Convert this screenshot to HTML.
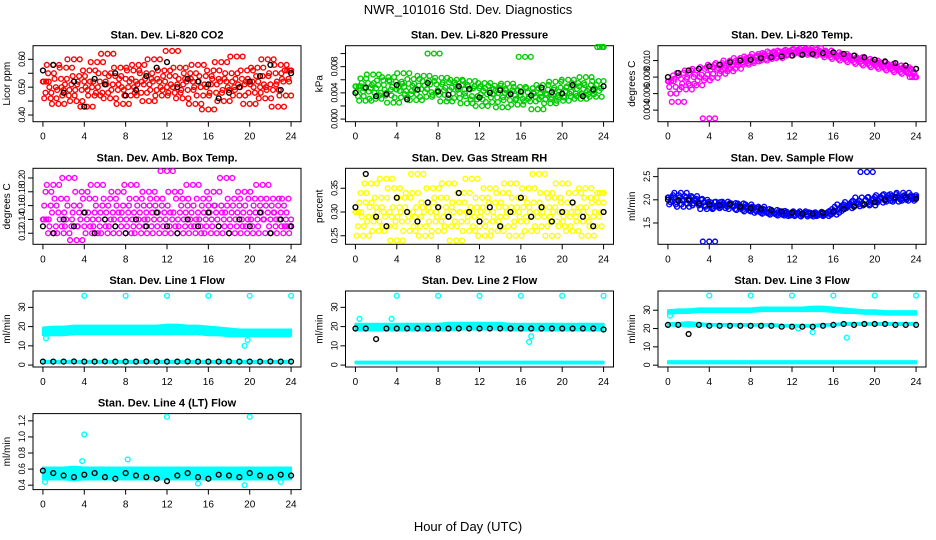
<!DOCTYPE html>
<html><head><meta charset="utf-8"><style>
body{margin:0;background:#fff;}
svg{display:block;font-family:"Liberation Sans",sans-serif;}
</style></head><body>
<svg id="c" width="936" height="540" viewBox="0 0 936 540">
<text x="468" y="14" font-size="13" text-anchor="middle">NWR_101016  Std. Dev. Diagnostics</text>
<text x="468" y="531" font-size="13" text-anchor="middle">Hour of Day (UTC)</text>
</svg>
<script>
const xTicks=[0,4,8,12,16,20,24];
const co2Vals=[0.52,0.48,0.55,0.46,0.58,0.50,0.44,0.53,0.49,0.57,0.47,0.51,0.60,0.45,0.54,0.49,0.52,0.43,0.56,0.50,0.47,0.59,0.52,0.48,0.55,0.62,0.46,0.51,0.54,0.49,0.57,0.44,0.53,0.50,0.47,0.56,0.52,0.58,0.48,0.51,0.55,0.45,0.53,0.60,0.49,0.52,0.47,0.56,0.50,0.54,0.63,0.48,0.51,0.57,0.46,0.53,0.49,0.55,0.52,0.44,0.58,0.50,0.47,0.54,0.42,0.51,0.56,0.48,0.53,0.59,0.45,0.52,0.49,0.55,0.50,0.61,0.47,0.53,0.51,0.56,0.44,0.52,0.48,0.57,0.50,0.54,0.46,0.60,0.51,0.49,0.55,0.43,0.58,0.52,0.47,0.53,0.56];
const co2Black=[0.56,0.58,0.48,0.52,0.43,0.53,0.51,0.55,0.47,0.49,0.54,0.57,0.59,0.50,0.53,0.52,0.51,0.46,0.48,0.50,0.52,0.54,0.58,0.49,0.55];
const presVals=[0.0050,0.0035,0.0062,0.0042,0.0028,0.0055,0.0047,0.0068,0.0031,0.0052,0.0040,0.0059,0.0036,0.0064,0.0045,0.0025,0.0057,0.0049,0.0033,0.0070,0.0043,0.0054,0.0038,0.0061,0.0029,0.0051,0.0046,0.0066,0.0034,0.0058,0.0041,0.0100,0.0053,0.0037,0.0063,0.0044,0.0027,0.0056,0.0048,0.0032,0.0060,0.0039,0.0052,0.0045,0.0024,0.0058,0.0035,0.0050,0.0030,0.0047,0.0020,0.0055,0.0038,0.0043,0.0026,0.0051,0.0033,0.0046,0.0018,0.0040,0.0054,0.0029,0.0044,0.0036,0.0022,0.0049,0.0031,0.0095,0.0041,0.0027,0.0047,0.0034,0.0015,0.0039,0.0052,0.0030,0.0045,0.0024,0.0037,0.0057,0.0033,0.0048,0.0028,0.0042,0.0060,0.0035,0.0050,0.0039,0.0055,0.0031,0.0046,0.0064,0.0038,0.0052,0.0043,0.0034,0.0058,0.0047,0.0110];
const presBlack=[0.0040,0.0048,0.0035,0.0038,0.0052,0.0030,0.0045,0.0055,0.0042,0.0037,0.0050,0.0046,0.0033,0.0040,0.0044,0.0038,0.0042,0.0036,0.0048,0.0041,0.0039,0.0052,0.0035,0.0045,0.0050];
const tempVals=[0.0075,0.0060,0.0082,0.0068,0.0050,0.0078,0.0085,0.0065,0.0072,0.0088,0.0080,0.0070,0.0090,0.0083,0.0076,0.0092,0.0030,0.0079,0.0095,0.0089,0.0084,0.0097,0.0091,0.0087,0.0100,0.0094,0.0090,0.0098,0.0103,0.0095,0.0101,0.0097,0.0105,0.0099,0.0104,0.0108,0.0100,0.0106,0.0102,0.0109,0.0105,0.0111,0.0103,0.0110,0.0107,0.0112,0.0106,0.0110,0.0113,0.0108,0.0111,0.0114,0.0109,0.0112,0.0107,0.0113,0.0110,0.0115,0.0108,0.0111,0.0106,0.0112,0.0109,0.0104,0.0110,0.0107,0.0102,0.0108,0.0105,0.0100,0.0106,0.0103,0.0098,0.0104,0.0101,0.0096,0.0102,0.0099,0.0094,0.0100,0.0097,0.0092,0.0098,0.0095,0.0090,0.0096,0.0093,0.0088,0.0094,0.0091,0.0086,0.0092,0.0089,0.0084,0.0090,0.0087,0.0080];
const tempBlack=[0.0080,0.0085,0.0088,0.0090,0.0093,0.0095,0.0098,0.0100,0.0101,0.0103,0.0104,0.0105,0.0106,0.0107,0.0108,0.0109,0.0110,0.0108,0.0106,0.0104,0.0101,0.0099,0.0097,0.0094,0.0090];
const ambVals=[0.14,0.18,0.12,0.16,0.19,0.13,0.15,0.17,0.12,0.14,0.20,0.13,0.16,0.11,0.15,0.18,0.13,0.14,0.17,0.12,0.15,0.19,0.13,0.16,0.14,0.12,0.17,0.15,0.13,0.18,0.14,0.16,0.12,0.15,0.19,0.13,0.17,0.14,0.12,0.16,0.15,0.18,0.13,0.14,0.17,0.12,0.16,0.15,0.21,0.13,0.14,0.18,0.12,0.15,0.17,0.13,0.16,0.14,0.19,0.12,0.15,0.13,0.17,0.14,0.16,0.12,0.18,0.15,0.13,0.16,0.14,0.20,0.12,0.15,0.17,0.13,0.16,0.14,0.18,0.12,0.15,0.13,0.17,0.14,0.16,0.19,0.12,0.15,0.14,0.17,0.13,0.16,0.15,0.12,0.14,0.17,0.13];
const ambBlack=[0.13,0.12,0.14,0.13,0.15,0.12,0.14,0.13,0.12,0.14,0.13,0.15,0.13,0.12,0.14,0.13,0.15,0.13,0.12,0.14,0.13,0.15,0.12,0.14,0.13];
const rhVals=[0.30,0.27,0.34,0.25,0.32,0.29,0.36,0.28,0.31,0.26,0.33,0.30,0.37,0.27,0.29,0.35,0.24,0.31,0.28,0.33,0.30,0.26,0.34,0.29,0.38,0.27,0.31,0.25,0.32,0.30,0.35,0.28,0.26,0.33,0.29,0.31,0.36,0.27,0.30,0.24,0.32,0.28,0.34,0.30,0.26,0.37,0.29,0.31,0.27,0.33,0.25,0.30,0.35,0.28,0.32,0.26,0.29,0.34,0.31,0.27,0.36,0.30,0.25,0.33,0.28,0.31,0.29,0.35,0.26,0.32,0.30,0.38,0.27,0.29,0.34,0.31,0.25,0.33,0.28,0.30,0.36,0.27,0.32,0.29,0.26,0.34,0.30,0.31,0.28,0.35,0.25,0.33,0.29,0.27,0.32,0.30,0.34];
const rhBlack=[0.31,0.38,0.29,0.27,0.33,0.30,0.28,0.32,0.31,0.29,0.34,0.30,0.28,0.31,0.27,0.30,0.33,0.29,0.31,0.28,0.30,0.32,0.29,0.27,0.30];
const flowVals=[2.05,1.95,2.10,1.90,2.00,2.15,1.85,2.05,1.98,2.08,1.92,2.02,1.88,2.00,1.95,1.80,1.10,1.85,1.95,1.88,1.82,1.96,1.90,1.85,1.93,1.87,1.80,1.92,1.86,1.78,1.90,1.84,1.75,1.82,1.77,1.85,1.72,1.80,1.74,1.70,1.78,1.72,1.68,1.76,1.70,1.66,1.74,1.68,1.72,1.65,1.70,1.75,1.67,1.72,1.64,1.70,1.68,1.73,1.66,1.71,1.65,1.69,1.74,1.68,1.72,1.76,1.80,1.85,1.90,1.82,1.88,1.95,1.86,1.92,1.98,2.05,1.90,2.60,1.88,2.00,2.06,1.94,2.02,2.10,1.98,2.05,2.12,1.96,2.03,2.08,2.00,2.15,2.04,1.98,2.10,2.02,2.06];
const flowBlack=[2.0,1.98,2.0,1.92,1.9,1.88,1.9,1.85,1.82,1.8,1.78,1.75,1.72,1.7,1.7,1.72,1.75,1.8,1.85,1.9,1.95,2.0,2.05,2.05,2.02];
const l1Hi=[19.5,20,20,20.5,20.5,20.5,20.5,20.5,20.5,20.5,20.5,20.5,21,21,20.5,20.5,20,19.5,19,18.5,18.5,18.5,18.5,18.5,18.5];
const l1Lo=[15.5,15.5,15.5,16,16,16,16,16,16,16,16,16,16,16,16,16,15.5,15.5,15,15,15,15,15,15,15];
const l1BaseHi=[2.2,2.2,2.2,2.2,2.2,2.2,2.2,2.2,2.2,2.2,2.2,2.2,2.2,2.2,2.2,2.2,2.2,2.2,2.2,2.2,2.2,2.2,2.2,2.2,2.2];
const l1BaseLo=[1.0,1.0,1.0,1.0,1.0,1.0,1.0,1.0,1.0,1.0,1.0,1.0,1.0,1.0,1.0,1.0,1.0,1.0,1.0,1.0,1.0,1.0,1.0,1.0,1.0];
const l1OutX=[4,8,12,16,20,24,19.5,19.8,0.3];
const l1OutY=[36,36,36,36,36,36,10,13,14];
const l1Black=[1.8,1.8,1.8,1.9,1.8,1.8,1.9,1.8,1.8,1.8,1.9,1.8,1.8,1.8,1.9,1.8,1.8,1.8,1.9,1.8,1.8,1.8,1.9,1.8,1.8];
const l2Hi=[21.5,21.5,21.5,21.5,21.5,21.5,21.5,21.5,21.5,22,22,22,22,22,22,21.5,21.5,21.5,21.5,21.5,21.5,21.5,21.5,21.5,21.5];
const l2Lo=[18,18,18,18,18,18,18,18,18,18,18.5,18.5,18.5,18.5,18.5,18,18,18,18,18,18,18,18,18,18];
const l2BaseHi=[1.8,1.8,1.8,1.8,1.8,1.8,1.8,1.8,1.8,1.8,1.8,1.8,1.8,1.8,1.8,1.8,1.8,1.8,1.8,1.8,1.8,1.8,1.8,1.8,1.8];
const l2BaseLo=[0.8,0.8,0.8,0.8,0.8,0.8,0.8,0.8,0.8,0.8,0.8,0.8,0.8,0.8,0.8,0.8,0.8,0.8,0.8,0.8,0.8,0.8,0.8,0.8,0.8];
const l2OutX=[4,8,12,16,20,24,0.4,17,16.8,3.5];
const l2OutY=[36,36,36,36,36,36,24,15,12,24];
const l2Black=[19,19,13.5,19,19,19,19,19,19,19,19,19,19,19,19,19,19,19,19,19,19,19,19,19,18.5];
const l3Hi=[30,30.5,30.5,31,31,31,31,31,31,31.5,31.5,31.5,31.5,31.5,32,32,31.5,31,30.5,30,30,29.5,29.5,29.5,29.5];
const l3Lo=[28,28.5,28.5,29,29,29,29,29,29,29.5,29.5,29.5,29.5,29.5,29.5,29.5,29,28.5,28.5,28,28,27.5,27.5,27.5,27.5];
const l3MidHi=[23,23,23.5,23,22.5,22.5,22.5,22.5,22.5,22.5,22.5,22,22,22,22,22.5,22.5,23,23,23,23,23,23,23,23];
const l3MidLo=[21.5,21.5,21,21.5,21.5,21.5,21.5,21.5,21.5,21.5,21.5,21,21,21,21,21.5,21.5,22,22,22,22,22,22,22,22];
const l3OutX=[4,8,12,16,20,24,0.2,17.3,14,12.6];
const l3OutY=[38,38,38,38,38,38,27,15,18,20];
const l3Black=[22,22,17,22,21.5,21.5,21.5,21.5,21.5,21.5,21.5,21,21,21,21,21.5,22,22.5,22,22.5,22.5,22.5,22,22,22];
const l4Hi=[0.62,0.62,0.62,0.63,0.62,0.62,0.62,0.62,0.62,0.62,0.62,0.62,0.62,0.62,0.62,0.62,0.62,0.62,0.62,0.62,0.62,0.62,0.62,0.62,0.62];
const l4Lo=[0.47,0.47,0.47,0.46,0.47,0.47,0.47,0.47,0.47,0.47,0.47,0.47,0.47,0.47,0.47,0.47,0.47,0.47,0.47,0.47,0.47,0.47,0.47,0.47,0.47];
const l4OutX=[4,12,20,0.2,3.8,8.2,15,19.5,23];
const l4OutY=[1.03,1.25,1.25,0.44,0.70,0.72,0.42,0.40,0.44];
const l4Black=[0.58,0.55,0.52,0.50,0.53,0.55,0.50,0.48,0.55,0.52,0.50,0.48,0.45,0.52,0.55,0.50,0.48,0.53,0.52,0.50,0.55,0.52,0.50,0.53,0.52];

const NS="http://www.w3.org/2000/svg";
const svg=document.getElementById('c');
const colX=[33,345.5,658], rowY=[45.7,168.3,291,413.6], W=268, H=76;
function mk(tag,attrs,parent){const e=document.createElementNS(NS,tag);for(const k in attrs)e.setAttribute(k,attrs[k]);(parent||svg).appendChild(e);return e;}
function panel(c,r,title,ylab,ymin,ymax,yt,ytl,name){
  const x0=colX[c],y0=rowY[r];
  const g=mk('g',{});
  
  
  const xr=24*1.08, xs=W/xr;
  const X=h=>x0+(h+24*0.04)*xs;
  const Y=v=>y0+H-(v-ymin)/(ymax-ymin)*H;
  const box=mk('rect',{x:x0,y:y0,width:W,height:H,fill:'none',stroke:'#000','stroke-width':1},g);
  
  
  const t=mk('text',{x:x0+W/2,y:y0-7,'font-size':11,'font-weight':'bold','text-anchor':'middle'},g);t.textContent=title;
  
  
  const yl=mk('text',{x:0,y:0,'font-size':10,'text-anchor':'middle',transform:`translate(${x0-23},${y0+H/2}) rotate(-90)`},g);yl.textContent=ylab;
  
  
  xTicks.forEach(h=>{const px=X(h);mk('line',{x1:px,x2:px,y1:y0+H,y2:y0+H+5,stroke:'#000'},g);
    const tx=mk('text',{x:px,y:y0+H+18,'font-size':10,'text-anchor':'middle'},g);tx.textContent=h;
    
    });
  yt.forEach((v,i)=>{const py=Y(v);mk('line',{x1:x0-5,x2:x0,y1:py,y2:py,stroke:'#000'},g);
    const tx=mk('text',{x:0,y:0,'font-size':9,'letter-spacing':-0.6,'text-anchor':'middle',transform:`translate(${x0-8},${py}) rotate(-90)`},g);tx.textContent=ytl[i];
    
    });
  return {g,X,Y};
}
function pts(p,xs,ys,col,name){
  ys.forEach((v,i)=>{const ci=mk('circle',{cx:p.X(xs(i)),cy:p.Y(v),r:2.4,fill:'none',stroke:col,'stroke-width':1.4},p.g);
    
    });
}
function scat(p,vals,blk,col,name){
  const n=vals.length;
  pts(p,i=>i*24/(n-1),vals,col,name+'-point');
  // extra passes reuse nearby readings (keeps local trend) to mimic denser sampling
  pts(p,i=>Math.min(24,(i+0.5)*24/(n-1)),vals.map((v,i)=>vals[Math.min(n-1,i+3)]),col,name+'-point');
  pts(p,i=>Math.min(24,(i+0.25)*24/(n-1)),vals.map((v,i)=>vals[Math.max(0,i-2)]),col,name+'-point');
  pts(p,i=>i*24/(blk.length-1),blk,'#000',name+'-black-point');
}
function band(p,hi,lo,col,name){
  let d='';hi.forEach((v,i)=>{d+=(i?'L':'M')+p.X(i*24/(hi.length-1))+','+p.Y(v)});
  for(let i=lo.length-1;i>=0;i--)d+='L'+p.X(i*24/(lo.length-1))+','+p.Y(lo[i]);
  const e=mk('path',{d:d+'Z',fill:col,stroke:col,'stroke-width':2,'stroke-linejoin':'round'},p.g);
  
  
}
let p;
p=panel(0,0,'Stan. Dev. Li-820 CO2','Licor ppm',0.376,0.649,[0.40,0.45,0.50,0.55,0.60],['0.40','','0.50','','0.60']);scat(p,co2Vals,co2Black,'#f00','co2');
p=panel(1,0,'Stan. Dev. Li-820 Pressure','kPa',-0.0004,0.0112,[0,0.002,0.004,0.006,0.008,0.010],['0.000','','0.004','','0.008','']);scat(p,presVals,presBlack,'#0c0','pressure');
p=panel(2,0,'Stan. Dev. Li-820 Temp.','degrees C',0.0026,0.0118,[0.004,0.006,0.008,0.010],['0.004','0.006','0.008','0.010']);scat(p,tempVals,tempBlack,'#f0f','temp');
p=panel(0,1,'Stan. Dev. Amb. Box Temp.','degrees C',0.104,0.214,[0.12,0.14,0.16,0.18,0.20],['0.12','0.14','0.16','0.18','0.20']);scat(p,ambVals,ambBlack,'#f0f','amb-box');
p=panel(1,1,'Stan. Dev. Gas Stream RH','percent',0.232,0.392,[0.25,0.30,0.35],['0.25','0.30','0.35']);scat(p,rhVals,rhBlack,'#ff0','rh');
p=panel(2,1,'Stan. Dev. Sample Flow','ml/min',1.04,2.68,[1.5,2.0,2.5],['1.5','2.0','2.5']);scat(p,flowVals,flowBlack,'#00f','sample-flow');
p=panel(0,2,'Stan. Dev. Line 1 Flow','ml/min',-1,38.5,[0,10,20,30],['0','10','20','30']);
band(p,l1Hi,l1Lo,'#0ff','line1-band');band(p,l1BaseHi,l1BaseLo,'#0ff','line1-base-band');
pts(p,i=>l1OutX[i],l1OutY,'#0ff','line1-outlier');pts(p,i=>i,l1Black,'#000','line1-black-point');
p=panel(1,2,'Stan. Dev. Line 2 Flow','ml/min',-1,38.5,[0,10,20,30],['0','10','20','30']);
band(p,l2Hi,l2Lo,'#0ff','line2-band');band(p,l2BaseHi,l2BaseLo,'#0ff','line2-base-band');
pts(p,i=>l2OutX[i],l2OutY,'#0ff','line2-outlier');pts(p,i=>i,l2Black,'#000','line2-black-point');
p=panel(2,2,'Stan. Dev. Line 3 Flow','ml/min',-1,40.5,[0,10,20,30],['0','10','20','30']);
band(p,l3Hi,l3Lo,'#0ff','line3-band');band(p,l3MidHi,l3MidLo,'#0ff','line3-mid-band');band(p,l1BaseHi,l1BaseLo,'#0ff','line3-base-band');
pts(p,i=>l3OutX[i],l3OutY,'#0ff','line3-outlier');pts(p,i=>i,l3Black,'#000','line3-black-point');
p=panel(0,3,'Stan. Dev. Line 4 (LT) Flow','ml/min',0.345,1.29,[0.4,0.6,0.8,1.0,1.2],['0.4','0.6','0.8','1.0','1.2']);
band(p,l4Hi,l4Lo,'#0ff','line4-band');
pts(p,i=>l4OutX[i],l4OutY,'#0ff','line4-outlier');pts(p,i=>i,l4Black,'#000','line4-black-point');
</script>
</body></html>
